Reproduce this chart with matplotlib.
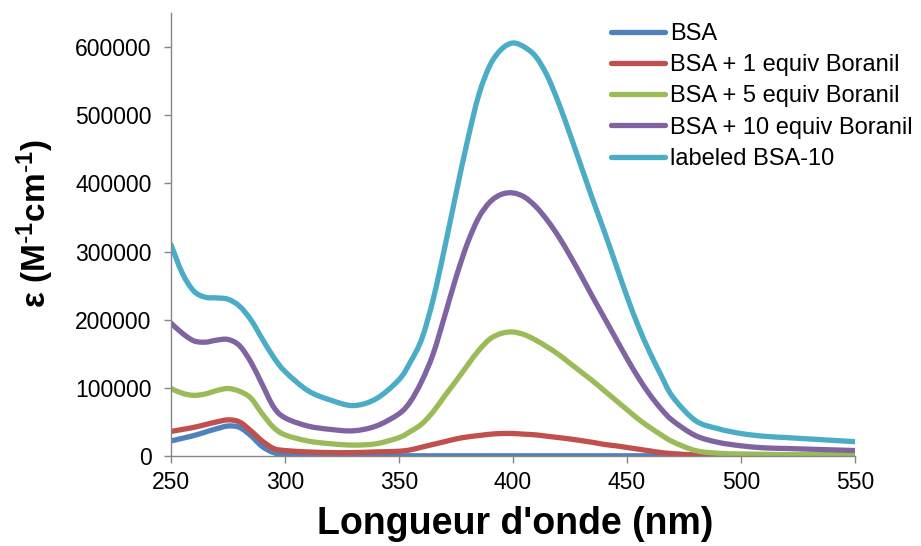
import matplotlib
matplotlib.use("Agg")
import matplotlib.pyplot as plt
from matplotlib.path import Path
from matplotlib.patches import PathPatch
from matplotlib.lines import Line2D

plt.rcParams["font.family"] = ["Liberation Sans", "DejaVu Sans"]
plt.rcParams["mathtext.default"] = "regular"

# Wavelength grid (nm) and molar absorption values
wavelength = [250, 255, 260, 265, 270, 275, 280, 285, 290, 295, 300, 310, 320,
              330, 340, 350, 355, 360, 365, 370, 375, 380, 385, 390, 395, 400,
              405, 410, 415, 420, 425, 430, 435, 440, 445, 450, 455, 460, 465,
              470, 480, 490, 500, 510, 520, 530, 540, 550]

bsa = [22000, 26000, 30000, 35000, 40000, 44000, 42000, 30000, 14000, 5000,
       2000, 800, 500, 400, 300, 300, 300, 300, 300, 300, 300, 300, 300, 300,
       300, 300, 300, 300, 300, 300, 300, 300, 300, 300, 300, 300, 300, 300,
       300, 300, 300, 300, 300, 300, 300, 300, 300, 300]

bsa_1eq = [36000, 39000, 42000, 46000, 50000, 53000, 50000, 37000, 22000,
           11000, 8000, 6000, 5000, 5000, 6000, 7000, 9000, 13000, 17000,
           21000, 25000, 28000, 30000, 32000, 33000, 33000, 32000, 31000,
           29000, 27000, 25000, 22500, 20000, 17000, 15000, 12500, 10000,
           7500, 5000, 3500, 1500, 800, 500, 400, 300, 300, 300, 300]

bsa_5eq = [99000, 92000, 89000, 91000, 96000, 99000, 95000, 85000, 62000,
           42000, 31000, 22000, 18000, 16000, 18000, 27000, 36000, 47000,
           65000, 88000, 110000, 133000, 155000, 172000, 180000, 182000,
           178000, 170000, 160000, 149000, 136000, 123000, 110000, 96000,
           82000, 68000, 54000, 42000, 31000, 21000, 8000, 4000, 3000, 2500,
           2000, 2000, 2000, 2000]

bsa_10eq = [195000, 180000, 169000, 167000, 170000, 171000, 162000, 138000,
            105000, 72000, 56000, 44000, 39000, 37000, 44000, 62000, 80000,
            110000, 150000, 205000, 262000, 312000, 350000, 373000, 384000,
            386000, 380000, 366000, 346000, 322000, 294000, 264000, 233000,
            203000, 173000, 143000, 115000, 90000, 69000, 52000, 30000, 20000,
            15000, 12000, 11000, 10000, 9000, 8000]

labeled_bsa10 = [310000, 268000, 242000, 233000, 232000, 230000, 220000,
                 200000, 172000, 145000, 124000, 96000, 82000, 74000, 84000,
                 112000, 138000, 172000, 230000, 305000, 385000, 462000,
                 530000, 574000, 597000, 606000, 600000, 586000, 558000,
                 518000, 472000, 424000, 376000, 330000, 282000, 234000,
                 190000, 152000, 118000, 87000, 52000, 40000, 33000, 29000,
                 27000, 25000, 23000, 21000]

labels = ["BSA", "BSA + 1 equiv Boranil", "BSA + 5 equiv Boranil",
          "BSA + 10 equiv Boranil", "labeled BSA-10"]
colors = ["#4F81BD", "#C0504D", "#9BBB59", "#8064A2", "#4BACC6"]
LW = 3.8


def smooth_path(xs, ys):
    # Excel-like smoothed line: Catmull-Rom segments as cubic Bezier curves
    pts = list(zip(xs, ys))
    n = len(pts)
    verts = [pts[0]]
    codes = [Path.MOVETO]
    for i in range(n - 1):
        p0 = pts[max(i - 1, 0)]
        p1 = pts[i]
        p2 = pts[i + 1]
        p3 = pts[min(i + 2, n - 1)]
        c1 = (p1[0] + (p2[0] - p0[0]) / 6, p1[1] + (p2[1] - p0[1]) / 6)
        c2 = (p2[0] - (p3[0] - p1[0]) / 6, p2[1] - (p3[1] - p1[1]) / 6)
        verts += [c1, c2, p2]
        codes += [Path.CURVE4] * 3
    return Path(verts, codes)


fig = plt.figure(figsize=(9.21, 5.46), dpi=100)
ax = fig.add_axes([171 / 921, 1 - 456 / 546, (855 - 171) / 921, (456 - 13) / 546])

handles = []
for ys, lab, col in zip([bsa, bsa_1eq, bsa_5eq, bsa_10eq, labeled_bsa10], labels, colors):
    ax.add_patch(PathPatch(smooth_path(wavelength, ys), facecolor="none",
                           edgecolor=col, linewidth=LW, capstyle="round",
                           joinstyle="round"))
    handles.append(Line2D([], [], color=col, linewidth=LW, solid_capstyle="round",
                          label=lab))

ax.set_xlim(250, 550)
ax.set_ylim(0, 650000)
ax.set_xticks(range(250, 551, 50))
ax.set_yticks(range(0, 600001, 100000))
ax.set_yticklabels([str(v) for v in range(0, 600001, 100000)])

for side in ["top", "right"]:
    ax.spines[side].set_visible(False)
for side in ["left", "bottom"]:
    ax.spines[side].set_color("#868686")
    ax.spines[side].set_linewidth(1.0)

ax.tick_params(axis="both", direction="out", length=5, width=1.0,
               color="#868686", labelsize=16.5, labelcolor="black")
ax.tick_params(axis="x", pad=6)
ax.tick_params(axis="y", pad=9)

fig.text(515 / 921, 1 - 524 / 546, "Longueur d'onde (nm)", ha="center",
         va="center", fontsize=27, fontweight="bold")
fig.text(35 / 921, 1 - 224 / 546, r"ε (M$^{\text{-}1}$cm$^{\text{-}1}$)",
         ha="center", va="center", rotation=90, fontsize=24, fontweight="bold")

ax.legend(handles=handles, loc="upper left",
          bbox_to_anchor=(611 / 921, 1 - 23 / 546),
          bbox_transform=fig.transFigure, frameon=False, fontsize=17,
          handlelength=2.3, handletextpad=0.2, labelspacing=0.39,
          borderpad=0, borderaxespad=0)

fig.savefig("out.png", dpi=100)
